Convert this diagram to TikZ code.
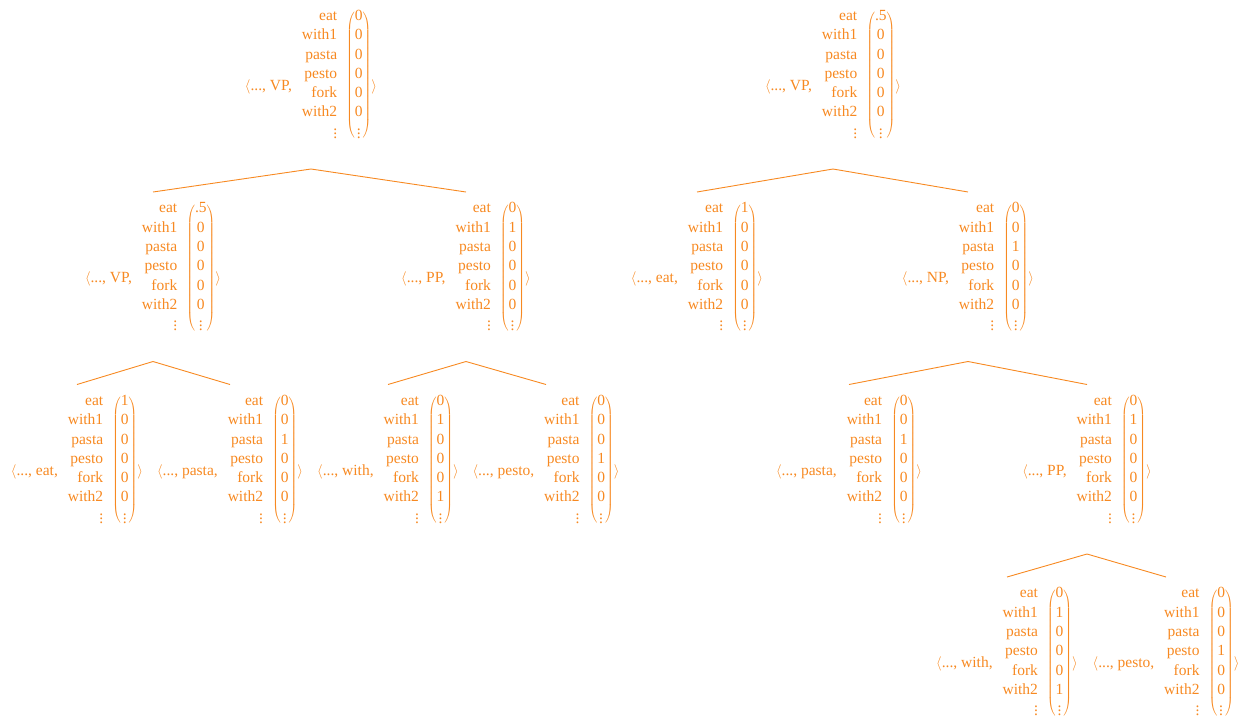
\documentclass[tikz,border=0pt]{standalone}
\usepackage{fontspec}
\setmainfont{Liberation Serif}
\usetikzlibrary{calc}
\definecolor{tcol}{RGB}{247,137,33}
\delimitershortfall=12pt
\delimiterfactor=880
\newcommand\rowlabs{\begin{tabular}{@{}r@{}}eat\\with1\\pasta\\pesto\\fork\\with2\\$\vdots$\end{tabular}}
\newcommand\tn[2]{\raisebox{-11pt}{$\langle$...,\ #1,}\hspace{10pt}\rowlabs\hspace{9pt}$\left(\hbox{\begin{tabular}{@{}c@{}}#2\\$\vdots$\end{tabular}}\right)$\raisebox{-11pt}{$\rangle$}}
\tikzset{
  tnode/.style={font=\fontsize{15.5}{19.3}\selectfont, text=tcol, inner sep=0pt, anchor=center},
  roofline/.style={draw=tcol, line width=0.9pt}
}
\newcommand\roof[3]{\draw[roofline] ($(#2)+(0,-76)$) -- ($(#1)+(0,93.5)$) -- ($(#3)+(0,-76)$);}
\begin{document}
\begin{tikzpicture}[x=1pt,y=-1pt]
\useasboundingbox (0,0) rectangle (1244,721);
% tree 1
\node[tnode] (r1) at (311,75.5) {\tn{VP}{0\\0\\0\\0\\0\\0}};
\node[tnode] (a1) at (153,268) {\tn{VP}{.5\\0\\0\\0\\0\\0}};
\node[tnode] (b1) at (466,268) {\tn{PP}{0\\1\\0\\0\\0\\0}};
\node[tnode] (c1) at (77,460.5) {\tn{eat}{1\\0\\0\\0\\0\\0}};
\node[tnode] (d1) at (230,460.5) {\tn{pasta}{0\\0\\1\\0\\0\\0}};
\node[tnode] (e1) at (388,460.5) {\tn{with}{0\\1\\0\\0\\0\\1}};
\node[tnode] (f1) at (546,460.5) {\tn{pesto}{0\\0\\0\\1\\0\\0}};
\roof{r1}{a1}{b1}
\roof{a1}{c1}{d1}
\roof{b1}{e1}{f1}
% tree 2
\node[tnode] (r2) at (833,75.5) {\tn{VP}{.5\\0\\0\\0\\0\\0}};
\node[tnode] (a2) at (697,268) {\tn{eat}{1\\0\\0\\0\\0\\0}};
\node[tnode] (b2) at (968,268) {\tn{NP}{0\\0\\1\\0\\0\\0}};
\node[tnode] (c2) at (849,460.5) {\tn{pasta}{0\\0\\1\\0\\0\\0}};
\node[tnode] (d2) at (1087,460.5) {\tn{PP}{0\\1\\0\\0\\0\\0}};
\node[tnode] (e2) at (1007,653) {\tn{with}{0\\1\\0\\0\\0\\1}};
\node[tnode] (f2) at (1166,653) {\tn{pesto}{0\\0\\0\\1\\0\\0}};
\roof{r2}{a2}{b2}
\roof{b2}{c2}{d2}
\roof{d2}{e2}{f2}
\end{tikzpicture}
\end{document}
